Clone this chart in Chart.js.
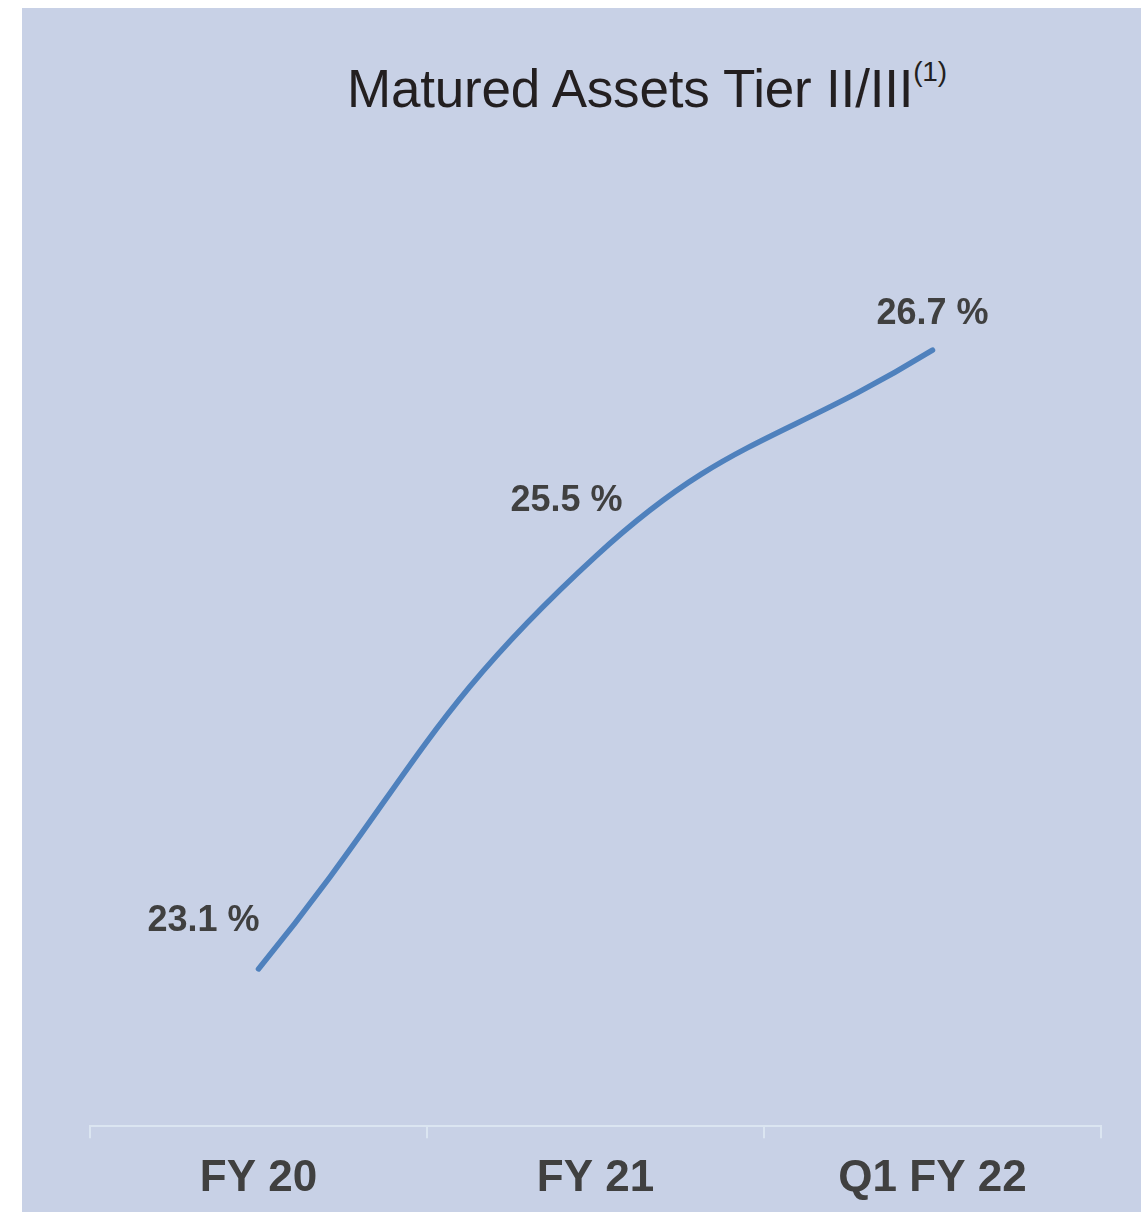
<!DOCTYPE html>
<html>
<head>
<meta charset="utf-8">
<script src="https://cdn.jsdelivr.net/npm/chart.js@4.4.1/dist/chart.umd.min.js"></script>
<style>
  html, body { margin: 0; padding: 0; background: #ffffff; }
  #panel {
    position: absolute; left: 22px; top: 8px;
    width: 1119px; height: 1204px;
    background: #c8d1e6;
  }
  #title {
    position: absolute; left: 325px; top: 50px;
    font-family: "Liberation Sans", Arial, sans-serif;
    font-size: 53px; color: #231f20; white-space: nowrap;
    letter-spacing: -0.2px;
  }
  #title sup { font-size: 28px; position: relative; top: -2px; vertical-align: top; }
  #chart { position: absolute; left: 0; top: 0; }
</style>
</head>
<body>
<div id="panel">
  <div id="title">Matured Assets Tier II/III<sup>(1)</sup></div>
  <canvas id="chart" width="1119" height="1204"></canvas>
</div>
<script>
const categories = ["FY 20", "FY 21", "Q1 FY 22"];
const ratioValues = [23.1, 25.5, 26.7];
const valueLabels = ["23.1 %", "25.5 %", "26.7 %"];

// where each value label sits against its point (dx, baseline dy)
const labelShift = [[-55, -38], [-29, -45], [0, -26]];

const pointLabels = {
    id: "pointLabels",
    afterDatasetsDraw(chart) {
        const ctx = chart.ctx;
        const meta = chart.getDatasetMeta(0);
        ctx.save();
        ctx.font = "bold 36px 'Liberation Sans', Arial, sans-serif";
        ctx.fillStyle = "#404040";
        ctx.textAlign = "center";
        ctx.textBaseline = "alphabetic";
        meta.data.forEach((pt, i) => {
            ctx.fillText(valueLabels[i], pt.x + labelShift[i][0], pt.y + labelShift[i][1]);
        });
        ctx.restore();
    }
};

const ctx = document.getElementById("chart").getContext("2d");
const myChart = new Chart(ctx, {
    type: "line",
    data: {
        labels: categories,
        datasets: [{
            data: ratioValues,
            borderColor: "#4f81bd",
            borderWidth: 5.5,
            borderCapStyle: "round",
            pointRadius: 0,
            tension: 0.45,
            fill: false,
        }],
    },
    options: {
        responsive: false,
        animation: false,
        layout: { padding: { left: 68, right: 40, top: 132, bottom: -7 } },
        plugins: { legend: { display: false }, tooltip: { enabled: false }, title: { display: false } },
        scales: {
            x: {
                offset: true,
                grid: {
                    offset: true,
                    drawOnChartArea: false,
                    drawTicks: true,
                    tickLength: 12,
                    color: "#dbe5f1",
                    lineWidth: 2,
                },
                border: { display: true, color: "#dbe5f1", width: 2 },
                ticks: {
                    color: "#404040",
                    padding: 14,
                    font: { family: "'Liberation Sans', Arial, sans-serif", size: 44, weight: "bold" },
                },
            },
            y: {
                display: false,
                min: 22.185,
                max: 27.923,
            },
        },
    },
    plugins: [pointLabels],
});
</script>
</body>
</html>
